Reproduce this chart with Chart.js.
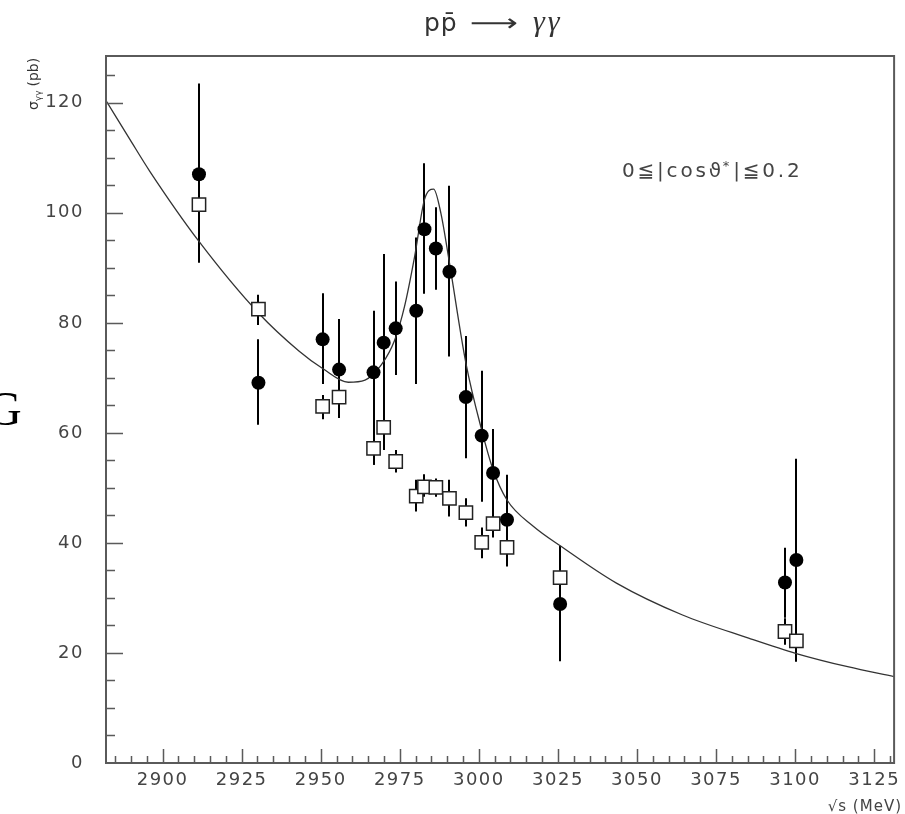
<!DOCTYPE html>
<html>
<head>
<meta charset="utf-8">
<script src="https://cdn.jsdelivr.net/npm/chart.js@4.4.0/dist/chart.umd.min.js"></script>
<style>
  html, body { margin: 0; padding: 0; background: #fff; }
  #wrap { width: 905px; height: 814px; }
</style>
</head>
<body>
<div id="wrap"><canvas id="chart" width="905" height="814"></canvas></div>
<script>
// Energies (MeV) of the measured points
const energy = [2911.5, 2930.3, 2950.6, 2955.8, 2966.7, 2969.9, 2973.7, 2980.2, 2982.8,
                2986.4, 2990.7, 2995.9, 3000.9, 3004.5, 3008.9, 3025.7, 3096.8, 3100.4];

// Filled circles: cross section and error bar ends (pb)
const sigmaFull = [107.0, 69.1, 77.0, 71.5, 71.0, 76.4, 79.0, 82.2, 97.0,
                   93.5, 89.3, 66.5, 59.5, 52.7, 44.2, 28.9, 32.8, 36.9];
const fullLow   = [90.9, 61.5, 68.9, 62.7, 54.2, 56.9, 70.5, 68.9, 85.3,
                   86.0, 73.9, 55.4, 47.5, 42.1, 35.7, 18.5, 26.4, 18.4];
const fullHigh  = [123.5, 77.0, 85.4, 80.7, 82.2, 92.5, 87.5, 95.5, 109.0,
                   101.0, 104.9, 77.6, 71.3, 60.7, 52.4, 39.5, 39.1, 55.3];

// Open squares
const sigmaOpen = [101.5, 82.5, 64.8, 66.5, 57.2, 61.0, 54.8, 48.5, 50.2,
                   50.1, 48.1, 45.5, 40.1, 43.5, 39.2, 33.7, 23.9, 22.2];
const openLow   = [99.0, 79.6, 62.5, 63.5, 54.2, 56.9, 52.8, 45.7, 48.4,
                   48.4, 44.8, 43.0, 37.2, 41.0, 36.2, 31.0, 21.5, 19.8];
const openHigh  = [104.0, 85.1, 66.9, 69.5, 60.2, 64.5, 56.9, 51.5, 52.5,
                   51.7, 51.5, 48.1, 42.8, 46.0, 42.2, 36.5, 26.3, 24.6];

// Fitted curve
const fitX = [2882.1, 2889.7, 2896.0, 2911.5, 2930.3, 2943.1, 2950.6, 2958.7, 2964.0,
              2969.2, 2973.4, 2976.5, 2979.7, 2982.8, 2985.7, 2988.0, 2990.7, 2995.9,
              3000.9, 3004.5, 3008.9, 3017.3, 3026.2, 3043.5, 3064.4, 3085.3, 3100.4,
              3116.6, 3131.3];
const fitY = [120.4, 113.3, 107.5, 94.8, 81.8, 74.9, 71.7, 69.2, 69.6,
              72.4, 76.9, 83.0, 92.1, 102.4, 104.3, 99.9, 90.9, 72.7,
              60.5, 53.3, 47.8, 43.0, 39.3, 32.7, 26.9, 22.7, 19.9,
              17.5, 15.7];

// Axis ticks
const xTicks = [2900, 2925, 2950, 2975, 3000, 3025, 3050, 3075, 3100, 3125];
const yTicks = [0, 20, 40, 60, 80, 100, 120];
const xRange = [2882.1, 3131.3];
const yRange = [0, 128.5];

const frameColor = '#5a5a5a';
const labelFont = { family: 'DejaVu Sans', size: 18 };

function toPoints(xs, ys) {
    return xs.map((x, i) => ({ x: x, y: ys[i] }));
}

// Wider letter spacing for the tick labels, like the original
const spacing = {
    id: 'spacing',
    beforeDraw(chart) {
        chart.ctx.letterSpacing = '1.5px';
    }
};

// Vertical error bars under the markers
const errorBars = {
    id: 'errorBars',
    beforeDatasetsDraw(chart) {
        const ctx = chart.ctx;
        const xs = chart.scales.x, ys = chart.scales.y;
        const a = chart.chartArea;
        ctx.save();
        ctx.beginPath();
        ctx.rect(a.left, a.top, a.right - a.left, a.bottom - a.top);
        ctx.clip();
        ctx.strokeStyle = '#000';
        ctx.lineWidth = 2;
        const bars = (lo, hi) => {
            energy.forEach((e, i) => {
                const px = Math.round(xs.getPixelForValue(e));
                ctx.beginPath();
                ctx.moveTo(px, ys.getPixelForValue(lo[i]));
                ctx.lineTo(px, ys.getPixelForValue(hi[i]));
                ctx.stroke();
            });
        };
        bars(fullLow, fullHigh);
        bars(openLow, openHigh);
        ctx.restore();
    }
};

// Frame with ticks pointing inward
const frame = {
    id: 'frame',
    afterDatasetsDraw(chart) {
        const ctx = chart.ctx;
        const xs = chart.scales.x, ys = chart.scales.y;
        const a = chart.chartArea;
        ctx.save();
        ctx.strokeStyle = frameColor;
        ctx.lineWidth = 2;
        ctx.strokeRect(a.left, a.top, a.right - a.left, a.bottom - a.top);
        ctx.lineWidth = 1.5;
        ctx.beginPath();
        for (let v = 2885; v <= 3130; v += 5) {
            const px = Math.round(xs.getPixelForValue(v)) + 0.5;
            const len = xTicks.includes(v) ? 14 : 7;
            ctx.moveTo(px, a.bottom);
            ctx.lineTo(px, a.bottom - len);
        }
        for (let v = 5; v <= 125; v += 5) {
            const py = Math.round(ys.getPixelForValue(v)) + 0.5;
            const len = yTicks.includes(v) ? 17 : 9;
            ctx.moveTo(a.left, py);
            ctx.lineTo(a.left + len, py);
        }
        ctx.stroke();
        ctx.restore();
    }
};

// Title, axis titles and annotation
const texts = {
    id: 'texts',
    afterDraw(chart) {
        const ctx = chart.ctx;
        ctx.save();
        ctx.textBaseline = 'alphabetic';
        ctx.letterSpacing = '0px';

        // title  p p-bar -> gamma gamma
        ctx.fillStyle = '#333';
        ctx.font = '25px "DejaVu Sans"';
        ctx.letterSpacing = '1px';
        ctx.fillText('pp\u0304', 424, 31);
        ctx.letterSpacing = '0px';
        ctx.save();
        ctx.translate(470, 31);
        ctx.scale(1.4, 1);
        ctx.font = '24px "DejaVu Sans"';
        ctx.fillText('\u27F6', 0, 0);
        ctx.restore();
        ctx.font = 'italic 30px "Liberation Serif"';
        ctx.letterSpacing = '3px';
        ctx.fillText('\u03B3\u03B3', 533, 31);
        ctx.letterSpacing = '0px';

        // y axis title, rotated
        ctx.save();
        ctx.translate(38, 110);
        ctx.rotate(-Math.PI / 2);
        ctx.font = '14px "DejaVu Sans"';
        ctx.fillText('\u03C3', 0, 0);
        let w = ctx.measureText('\u03C3').width;
        ctx.font = '9px "DejaVu Sans"';
        ctx.fillText('\u03B3\u03B3', w, 3);
        w += ctx.measureText('\u03B3\u03B3').width + 4;
        ctx.font = '14px "DejaVu Sans"';
        ctx.fillText('(pb)', w, 0);
        ctx.restore();

        // angular cut
        ctx.fillStyle = '#444';
        ctx.font = '20px "DejaVu Sans"';
        ctx.letterSpacing = '2.8px';
        let x = 622;
        const y = 177;
        ctx.fillText('0\u2266|cos\u03D1', x, y);
        x += ctx.measureText('0\u2266|cos\u03D1').width;
        ctx.font = '13px "DejaVu Sans"';
        ctx.fillText('*', x - 1, y - 7);
        x += ctx.measureText('*').width;
        ctx.font = '20px "DejaVu Sans"';
        ctx.fillText('|\u22660.2', x, y);

        // x axis title
        ctx.textAlign = 'right';
        ctx.letterSpacing = '1px';
        ctx.font = '15px "DejaVu Sans"';
        ctx.fillText('\u221As (MeV)', 902, 811);
        ctx.letterSpacing = '0px';

        // stray glyph at the left edge
        ctx.textAlign = 'left';
        ctx.fillStyle = '#000';
        ctx.font = '48px "Liberation Serif"';
        ctx.fillText('G', -13, 425);
        ctx.restore();
    }
};

new Chart(document.getElementById('chart'), {
    type: 'scatter',
    data: {
        datasets: [
            {
                label: 'full',
                data: toPoints(energy, sigmaFull),
                pointStyle: 'circle',
                pointRadius: 7,
                backgroundColor: '#000',
                borderColor: '#000',
                borderWidth: 0,
                order: 1
            },
            {
                label: 'open',
                data: toPoints(energy, sigmaOpen),
                pointStyle: 'rect',
                pointRadius: 9.4,
                backgroundColor: '#fff',
                borderColor: '#222',
                borderWidth: 1.5,
                order: 2
            },
            {
                label: 'fit',
                type: 'line',
                data: toPoints(fitX, fitY),
                borderColor: '#333',
                borderWidth: 1.3,
                pointRadius: 0,
                fill: false,
                cubicInterpolationMode: 'monotone',
                order: 3
            }
        ]
    },
    options: {
        responsive: false,
        animation: false,
        devicePixelRatio: 1,
        layout: { padding: { top: 56, right: 5, left: 0, bottom: 0 } },
        plugins: {
            legend: { display: false },
            tooltip: { enabled: false },
            title: { display: false }
        },
        scales: {
            x: {
                type: 'linear',
                min: xRange[0],
                max: xRange[1],
                grid: { display: false, drawTicks: false },
                border: { display: false },
                afterBuildTicks: s => { s.ticks = xTicks.map(v => ({ value: v })); },
                afterFit: s => { s.height = 51; },
                ticks: {
                    color: '#444',
                    font: labelFont,
                    padding: 7,
                    maxRotation: 0,
                    callback: v => String(v)
                }
            },
            y: {
                type: 'linear',
                min: yRange[0],
                max: yRange[1],
                grid: { display: false, drawTicks: false },
                border: { display: false },
                afterBuildTicks: s => { s.ticks = yTicks.map(v => ({ value: v })); },
                afterFit: s => { s.width = 106; },
                ticks: {
                    color: '#444',
                    font: labelFont,
                    padding: 22,
                    callback: v => String(v)
                }
            }
        }
    },
    plugins: [spacing, errorBars, frame, texts]
});
</script>
</body>
</html>
